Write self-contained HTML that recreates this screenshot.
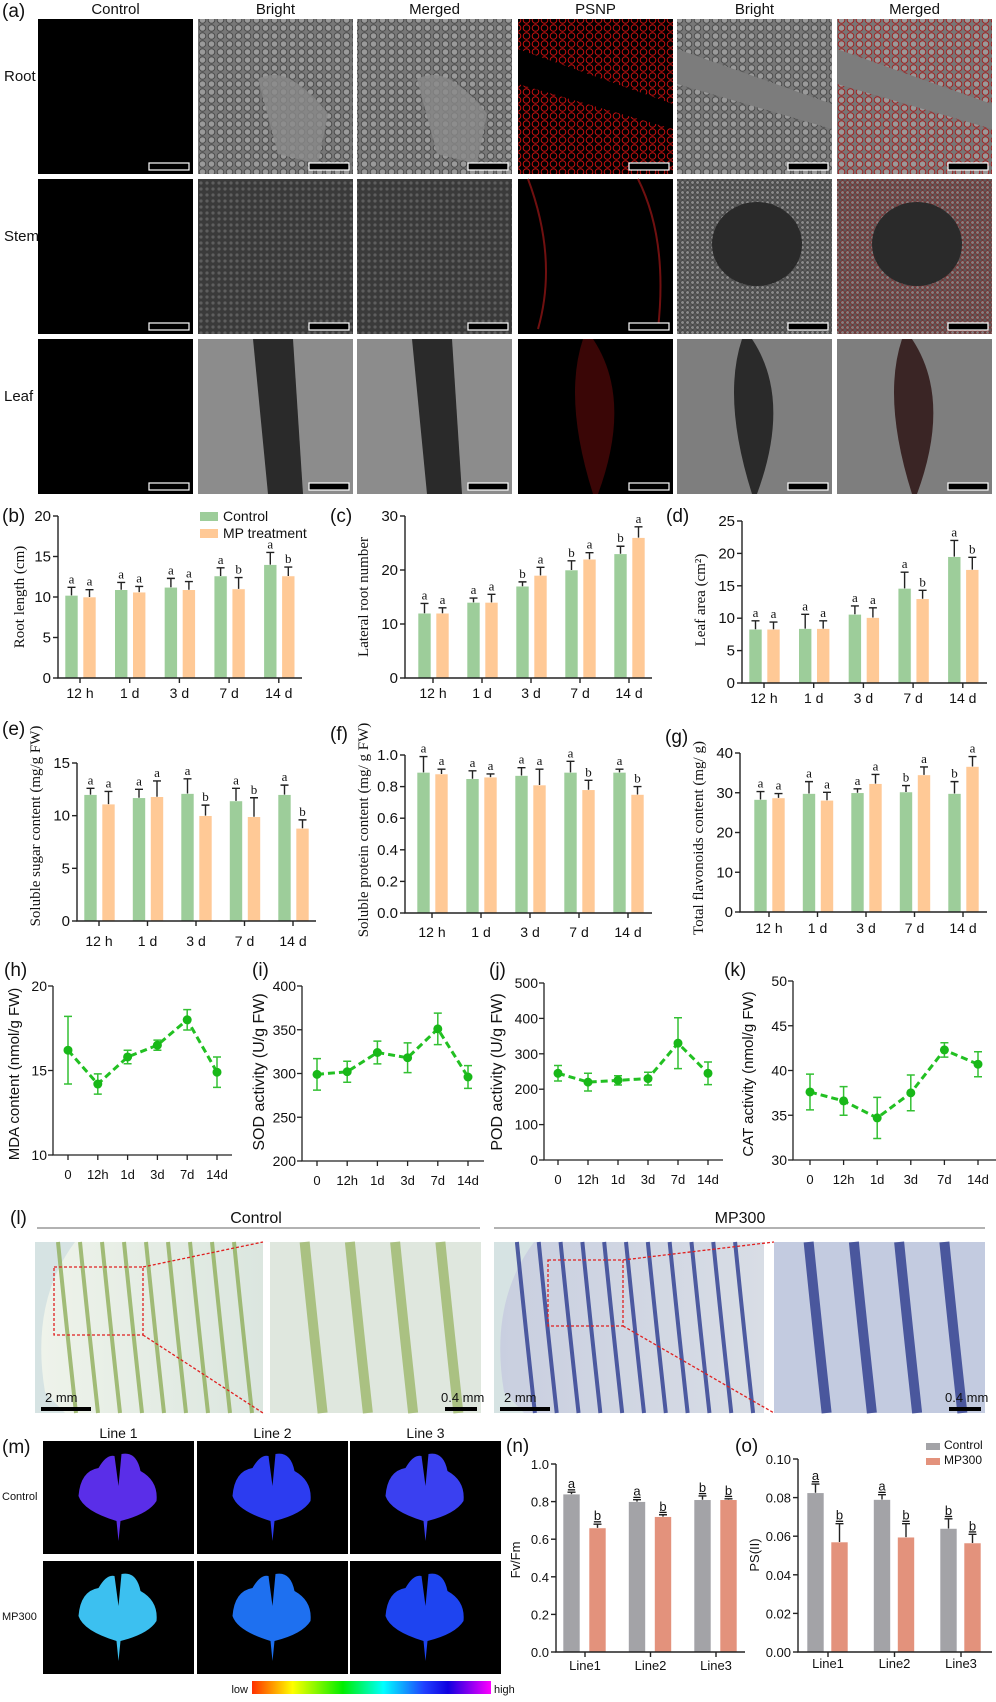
<!DOCTYPE html>
<html><head><meta charset="utf-8"><title>Figure</title>
<style>
html,body{margin:0;padding:0;background:#fff;}
svg text{font-family:"Liberation Sans",Arial,sans-serif;}
.serif{font-family:"Liberation Serif","Times New Roman",serif !important;}
</style></head>
<body>
<svg id="fig" xmlns="http://www.w3.org/2000/svg" width="996" height="1697" viewBox="0 0 996 1697">
<defs>
  <pattern id="cellsG" width="9" height="8" patternUnits="userSpaceOnUse"><rect width="9" height="8" fill="#777"/><circle cx="4.5" cy="4" r="3.3" fill="#9a9a9a" stroke="#4a4a4a" stroke-width="1"/></pattern>
  <pattern id="cellsR" width="9" height="8" patternUnits="userSpaceOnUse"><rect width="9" height="8" fill="#000"/><circle cx="4.5" cy="4" r="3.3" fill="none" stroke="#c81010" stroke-width="1"/></pattern>
  <pattern id="cellsM" width="9" height="8" patternUnits="userSpaceOnUse"><rect width="9" height="8" fill="#777"/><circle cx="4.5" cy="4" r="3.3" fill="#999" stroke="#a02020" stroke-width="1"/></pattern>
  <pattern id="stemG" width="6" height="6" patternUnits="userSpaceOnUse"><rect width="6" height="6" fill="#3a3a3a"/><circle cx="3" cy="3" r="1.6" fill="#5e5e5e"/></pattern>
  <pattern id="stemG2" width="5" height="5" patternUnits="userSpaceOnUse"><rect width="5" height="5" fill="#5a5a5a"/><circle cx="2.5" cy="2.5" r="1.8" fill="#8a8a8a" stroke="#3a3a3a" stroke-width="0.6"/></pattern>
  <pattern id="stemM" width="5" height="5" patternUnits="userSpaceOnUse"><rect width="5" height="5" fill="#5a5a5a"/><circle cx="2.5" cy="2.5" r="1.8" fill="#808080" stroke="#8a1a1a" stroke-width="0.6"/></pattern>
  <linearGradient id="cbar" x1="0" x2="1" y1="0" y2="0">
    <stop offset="0" stop-color="#ff3000"/><stop offset="0.17" stop-color="#ffff00"/><stop offset="0.38" stop-color="#00ee00"/><stop offset="0.55" stop-color="#00ffff"/><stop offset="0.72" stop-color="#2040ff"/><stop offset="0.82" stop-color="#1000e0"/><stop offset="1" stop-color="#ff00ff"/>
  </linearGradient>
  <linearGradient id="ctlLeaf" x1="0" x2="1"><stop offset="0" stop-color="#eef3ea"/><stop offset="1" stop-color="#dbe6df"/></linearGradient>
  <linearGradient id="mpLeaf" x1="0" x2="1"><stop offset="0" stop-color="#c9cfe0"/><stop offset="1" stop-color="#d8dde5"/></linearGradient>
</defs>
<g id="panelA"></g>
<g id="charts"></g>
<g id="panelL"></g>
<g id="panelM"></g>
</svg>
<script>
// ---------- DATA ----------
const timeCats = ["12 h","1 d","3 d","7 d","14 d"];
const bCtrl = [10.2,10.9,11.2,12.6,14.0];
const bCtrlErr = [1.0,0.9,1.1,1.0,1.5];
const bMP = [10.0,10.6,10.9,11.0,12.6];
const bMPErr = [0.9,0.7,1.0,1.4,1.1];
const bLetC = ["a","a","a","a","a"];
const bLetM = ["a","a","a","b","b"];
const bTicks = [0,5,10,15,20];
const cCtrl = [12,14,17,20,23];
const cCtrlErr = [1.8,0.8,0.8,1.7,1.4];
const cMP = [12,14,19,22,26];
const cMPErr = [1.0,1.5,1.5,1.2,2.0];
const cLetC = ["a","a","b","b","b"];
const cLetM = ["a","a","a","a","a"];
const cTicks = [0,10,20,30];
const dCtrl = [8.3,8.4,10.6,14.6,19.5];
const dCtrlErr = [1.3,2.2,1.3,2.5,2.5];
const dMP = [8.3,8.4,10.1,13.0,17.5];
const dMPErr = [1.1,1.2,1.5,1.3,1.9];
const dLetC = ["a","a","a","a","a"];
const dLetM = ["a","a","a","b","b"];
const dTicks = [0,5,10,15,20,25];
const eCtrl = [12.0,11.7,12.1,11.4,12.0];
const eCtrlErr = [0.6,0.8,1.4,1.2,0.9];
const eMP = [11.1,11.8,10.0,9.9,8.8];
const eMPErr = [1.2,1.5,1.0,1.8,0.8];
const eLetC = ["a","a","a","a","a"];
const eLetM = ["a","a","b","b","b"];
const eTicks = [0,5,10,15];
const fCtrl = [0.89,0.85,0.87,0.89,0.89];
const fCtrlErr = [0.10,0.05,0.05,0.07,0.02];
const fMP = [0.88,0.86,0.81,0.78,0.75];
const fMPErr = [0.03,0.02,0.10,0.06,0.05];
const fLetC = ["a","a","a","a","a"];
const fLetM = ["a","a","a","b","b"];
const fTicks = [0,0.2,0.4,0.6,0.8,1.0];
const gCtrl = [28.3,29.8,30.0,30.2,29.8];
const gCtrlErr = [2.0,3.0,1.0,1.6,3.0];
const gMP = [28.7,28.1,32.3,34.5,36.6];
const gMPErr = [1.1,2.0,2.3,2.0,2.5];
const gLetC = ["a","a","a","b","b"];
const gLetM = ["a","a","a","a","a"];
const gTicks = [0,10,20,30,40];
const lineCats = ["0","12h","1d","3d","7d","14d"];
const hVals = [16.2,14.2,15.8,16.5,18.0,14.9];
const hErr = [2.0,0.6,0.4,0.3,0.6,0.9];
const hTicks = [10,15,20];
const iVals = [299,302,324,318,351,296];
const iErr = [18,12,13,17,18,13];
const iTicks = [200,250,300,350,400];
const jVals = [245,220,225,230,330,245];
const jErr = [22,25,13,18,72,32];
const jTicks = [0,100,200,300,400,500];
const kVals = [37.6,36.6,34.7,37.5,42.3,40.7];
const kErr = [2.0,1.6,2.3,2.0,0.8,1.4];
const kTicks = [30,35,40,45,50];
const lineCatsN = ["Line1","Line2","Line3"];
const nCtrl = [0.84,0.80,0.81];
const nCtrlErr = [0.01,0.01,0.02];
const nMP = [0.66,0.72,0.81];
const nMPErr = [0.02,0.01,0.005];
const nLetC = ["a","a","b"];
const nLetM = ["b","b","b"];
const nTicks = [0,0.2,0.4,0.6,0.8,1.0];
const oCtrl = [0.0825,0.079,0.064];
const oCtrlErr = [0.0045,0.0025,0.005];
const oMP = [0.057,0.0595,0.0565];
const oMPErr = [0.0095,0.007,0.0045];
const oLetC = ["a","a","b"];
const oLetM = ["b","b","b"];
const oTicks = [0,0.02,0.04,0.06,0.08,0.10];

const NS = "http://www.w3.org/2000/svg";
function mk(parent, tag, attrs, txt){
  const e = document.createElementNS(NS, tag);
  for (const k in attrs) e.setAttribute(k, attrs[k]);
  if (txt !== undefined) e.textContent = txt;
  parent.appendChild(e);
  return e;
}
const charts = document.getElementById("charts");

function fmt(v, dec){ return dec ? v.toFixed(dec) : String(v); }

function barChart(o){
  const g = mk(charts, "g", {});
  
  
  const y = v => o.yBot - (v - o.min) / (o.max - o.min) * (o.yBot - o.yTop);
  const xc = i => o.c0 + i * o.step;
  const series = [[o.ctrl,o.ctrlErr,o.letC,o.colC,o.offC],[o.mp,o.mpErr,o.letM,o.colM,o.offM]];
  series.forEach((s, si) => {
    s[0].forEach((v, i) => {
      const x = xc(i) + s[4];
      const r = mk(g, "rect", {x:x, y:y(v), width:o.bw, height:y(o.min)-y(v), fill:s[3], stroke:"#fff", "stroke-width":0.6});
      
      
      const top = y(v + s[1][i]);
      const eb = mk(g, "path", {d:`M${x+o.bw/2},${y(v)}V${top}M${x+o.bw/2-4},${top}H${x+o.bw/2+4}`, stroke:"#222", "stroke-width":1.4, fill:"none"});
      
      
      const t = mk(g, "text", {x:x+o.bw/2, y:top-4, "text-anchor":"middle", "font-size":o.letSize||13, class:o.sansLetters?"":"serif", "text-decoration":o.sansLetters?"underline":"none", fill:"#111"}, s[2][i]);
      
      
    });
  });
  const ax = mk(g, "path", {d:`M${o.x0},${o.yTop}V${y(o.min)}H${o.x1}`, stroke:"#222", "stroke-width":1.4, fill:"none"});
  
  
  o.ticks.forEach(v => {
    const tk = mk(g, "path", {d:`M${o.x0-5},${y(v)}H${o.x0}`, stroke:"#222", "stroke-width":1.4});
    
    
    const tl = mk(g, "text", {x:o.x0-7, y:y(v)+5, "text-anchor":"end", "font-size":o.tickSize||15, fill:"#111"}, fmt(v, o.dec));
    
    
  });
  o.cats.forEach((c, i) => {
    const tk = mk(g, "path", {d:`M${xc(i)},${y(o.min)}V${y(o.min)+5}`, stroke:"#222", "stroke-width":1.4});
    
    
    const tl = mk(g, "text", {x:xc(i)+(o.lblOff||0), y:o.lblY, "text-anchor":"middle", "font-size":o.catSize||14, fill:"#111"}, c);
    
    
  });
  const yt = mk(g, "text", {x:0, y:0, transform:`translate(${o.titleX},${o.titleY}) rotate(-90)`, "text-anchor":"middle", "font-size":o.titleSize||15, class:o.sansTitle?"":"serif", fill:"#111"}, o.title);
  
  
  const pl = mk(g, "text", {x:o.lx, y:o.ly, "font-size":19, fill:"#111"}, o.label);
  
  
  return g;
}

function lineChart(o){
  const g = mk(charts, "g", {});
  
  
  const y = v => o.yBot - (v - o.min) / (o.max - o.min) * (o.yBot - o.yTop);
  const xc = i => o.c0 + i * o.step;
  const ax = mk(g, "path", {d:`M${o.x0},${o.yTop}V${o.yBot}H${o.x1}`, stroke:"#222", "stroke-width":1.3, fill:"none"});
  
  
  o.ticks.forEach(v => {
    const tk = mk(g, "path", {d:`M${o.x0-5},${y(v)}H${o.x0}`, stroke:"#222", "stroke-width":1.3});
    
    
    const tl = mk(g, "text", {x:o.x0-6, y:y(v)+5, "text-anchor":"end", "font-size":14, fill:"#111"}, String(v));
    
    
  });
  o.cats.forEach((c, i) => {
    const tk = mk(g, "path", {d:`M${xc(i)},${o.yBot}V${o.yBot+5}`, stroke:"#222", "stroke-width":1.3});
    
    
    const tl = mk(g, "text", {x:xc(i), y:o.yBot+24, "text-anchor":"middle", "font-size":13, fill:"#111"}, c);
    
    
  });
  const pts = o.vals.map((v, i) => `${xc(i)},${y(v)}`).join(" ");
  const ln = mk(g, "polyline", {points:pts, fill:"none", stroke:"#22c022", "stroke-width":3, "stroke-dasharray":"7,4"});
  
  
  o.vals.forEach((v, i) => {
    const x = xc(i), t = y(v + o.err[i]), b = y(v - o.err[i]);
    const eb = mk(g, "path", {d:`M${x},${t}V${b}M${x-4},${t}H${x+4}M${x-4},${b}H${x+4}`, stroke:"#33c033", "stroke-width":1.5, fill:"none"});
    
    
    const p = mk(g, "circle", {cx:x, cy:y(v), r:4.5, fill:"#18b818"});
    
    
  });
  const yt = mk(g, "text", {x:0, y:0, transform:`translate(${o.titleX},${o.titleY}) rotate(-90)`, "text-anchor":"middle", "font-size":o.titleSize||16, fill:"#111"}, o.title);
  
  
  const pl = mk(g, "text", {x:o.lx, y:o.ly, "font-size":19, fill:"#111"}, o.label);
  
  
}

const GC="#9dcd9a", OC="#ffc996";
const common = {cats:timeCats, colC:GC, colM:OC, offC:-15, offM:3, bw:13};
barChart(Object.assign({}, common, {name:"chart-b-root-length", x0:58,x1:302,yTop:516,yBot:678,min:0,max:20,ticks:bTicks,c0:80,step:49.7,ctrl:bCtrl,ctrlErr:bCtrlErr,mp:bMP,mpErr:bMPErr,letC:bLetC,letM:bLetM,lblY:698,title:"Root length (cm)",titleX:24,titleY:597,label:"(b)",lx:2,ly:522}));
barChart(Object.assign({}, common, {name:"chart-c-lateral-root", x0:405,x1:652,yTop:516,yBot:678,min:0,max:30,ticks:cTicks,c0:433,step:49,ctrl:cCtrl,ctrlErr:cCtrlErr,mp:cMP,mpErr:cMPErr,letC:cLetC,letM:cLetM,lblY:698,title:"Lateral root number",titleX:368,titleY:597,label:"(c)",lx:330,ly:522}));
barChart(Object.assign({}, common, {name:"chart-d-leaf-area", x0:742,x1:987,yTop:521,yBot:683,min:0,max:25,ticks:dTicks,c0:764,step:49.7,ctrl:dCtrl,ctrlErr:dCtrlErr,mp:dMP,mpErr:dMPErr,letC:dLetC,letM:dLetM,lblY:703,title:"Leaf area (cm²)",titleX:705,titleY:600,label:"(d)",lx:666,ly:522}));
barChart(Object.assign({}, common, {name:"chart-e-sugar", x0:77,x1:316,yTop:763,yBot:921,min:0,max:15,ticks:eTicks,c0:99,step:48.5,ctrl:eCtrl,ctrlErr:eCtrlErr,mp:eMP,mpErr:eMPErr,letC:eLetC,letM:eLetM,lblY:946,title:"Soluble sugar content (mg/g FW)",titleX:40,titleY:826,label:"(e)",lx:2,ly:735}));
barChart(Object.assign({}, common, {name:"chart-f-protein", x0:405,x1:652,yTop:755,yBot:913,min:0,max:1.0,dec:1,ticks:fTicks,c0:432,step:49,ctrl:fCtrl,ctrlErr:fCtrlErr,mp:fMP,mpErr:fMPErr,letC:fLetC,letM:fLetM,lblY:937,title:"Soluble protein content (mg/ g FW)",titleX:368,titleY:830,label:"(f)",lx:330,ly:740}));
barChart(Object.assign({}, common, {name:"chart-g-flavonoids", x0:740,x1:987,yTop:753,yBot:912,min:0,max:40,ticks:gTicks,c0:769,step:48.5,ctrl:gCtrl,ctrlErr:gCtrlErr,mp:gMP,mpErr:gMPErr,letC:gLetC,letM:gLetM,lblY:933,title:"Total flavonoids content (mg/ g)",titleX:703,titleY:838,label:"(g)",lx:665,ly:743}));

lineChart({name:"chart-h-mda",x0:53,x1:232,yTop:986,yBot:1155,min:10,max:20,ticks:hTicks,c0:68,step:29.8,cats:lineCats,vals:hVals,err:hErr,title:"MDA content (nmol/g FW)",titleSize:15,titleX:19,titleY:1074,label:"(h)",lx:4,ly:976});
lineChart({name:"chart-i-sod",x0:302,x1:484,yTop:986,yBot:1161,min:200,max:400,ticks:iTicks,c0:317,step:30.2,cats:lineCats,vals:iVals,err:iErr,title:"SOD activity (U/g FW)",titleX:264,titleY:1072,label:"(i)",lx:252,ly:976});
lineChart({name:"chart-j-pod",x0:544,x1:723,yTop:983,yBot:1160,min:0,max:500,ticks:jTicks,c0:558,step:30,cats:lineCats,vals:jVals,err:jErr,title:"POD activity (U/g FW)",titleX:502,titleY:1072,label:"(j)",lx:489,ly:976});
lineChart({name:"chart-k-cat",x0:793,x1:996,yTop:981,yBot:1160,min:30,max:50,ticks:kTicks,c0:810,step:33.6,cats:lineCats,vals:kVals,err:kErr,title:"CAT activity (nmol/g  FW)",titleSize:15,titleX:753,titleY:1074,label:"(k)",lx:724,ly:976});

const nc = {cats:lineCatsN, colC:"#a3a3a7", colM:"#e3927c", bw:17, tickSize:13, catSize:13, letSize:13, sansLetters:true, sansTitle:true, dec:1, titleSize:13};
barChart(Object.assign({}, nc, {name:"chart-n-fvfm",x0:556,x1:745,yTop:1464,yBot:1652,min:0,max:1.0,ticks:nTicks,c0:585,step:65.5,offC:-22,offM:4,ctrl:nCtrl,ctrlErr:nCtrlErr,mp:nMP,mpErr:nMPErr,letC:nLetC,letM:nLetM,lblY:1670,title:"Fv/Fm",titleX:520,titleY:1560,label:"(n)",lx:506,ly:1452}));
barChart(Object.assign({}, nc, {name:"chart-o-psii",x0:798,x1:992,yTop:1459,yBot:1652,min:0,max:0.10,dec:2,ticks:oTicks,c0:828,step:66.5,offC:-21,offM:3,ctrl:oCtrl,ctrlErr:oCtrlErr,mp:oMP,mpErr:oMPErr,letC:oLetC,letM:oLetM,lblY:1668,title:"PS(II)",titleX:759,titleY:1555,label:"(o)",lx:735,ly:1452}));

(function(){
  const lg = mk(charts, "g", {});
  
  
  const s1 = mk(lg, "rect", {x:200,y:512,width:18,height:9,fill:GC});
  
  
  const t1 = mk(lg, "text", {x:223,y:521,"font-size":14,fill:"#111"}, "Control");
  
  
  const s2 = mk(lg, "rect", {x:200,y:529,width:18,height:9,fill:OC});
  
  
  const t2 = mk(lg, "text", {x:223,y:538,"font-size":14,fill:"#111"}, "MP treatment");
  
  
  const lo = mk(charts, "g", {});
  
  
  const s3 = mk(lo, "rect", {x:926,y:1443,width:14,height:7,fill:"#a3a3a7"});
  
  
  const t3 = mk(lo, "text", {x:944,y:1449,"font-size":12,fill:"#111"}, "Control");
  
  
  const s4 = mk(lo, "rect", {x:926,y:1458,width:14,height:7,fill:"#e3927c"});
  
  
  const t4 = mk(lo, "text", {x:944,y:1464,"font-size":12,fill:"#111"}, "MP300");
  
  
})();

// ---------- PANEL A ----------
(function(){
  const A = document.getElementById("panelA");
  const cols = [38,198,357,518,677,837];
  const colW = 155;
  const rows = [19,179,339];
  const rowH = 155;
  const heads = ["Control","Bright","Merged","PSNP","Bright","Merged"];
  const rowNames = ["Root","Stem","Leaf"];
  const fills = [
    ["#000","url(#cellsG)","url(#cellsG)","url(#cellsR)","url(#cellsG)","url(#cellsM)"],
    ["#000","url(#stemG)","url(#stemG)","#000","url(#stemG2)","url(#stemM)"],
    ["#000","#8c8c8c","#8c8c8c","#000","#7e7e7e","#7e7e7e"]
  ];
  const pl = mk(A, "text", {x:2,y:17,"font-size":19,fill:"#111"}, "(a)");
  
  
  heads.forEach((h, c) => {
    const t = mk(A, "text", {x:cols[c]+colW/2,y:14,"text-anchor":"middle","font-size":15,fill:"#111"}, h);
    
    
  });
  rowNames.forEach((n, r) => {
    const t = mk(A, "text", {x:4,y:rows[r]+62,"font-size":15,fill:"#111"}, n);
    
    
    cols.forEach((x, c) => {
      const im = mk(A, "rect", {x:x,y:rows[r],width:colW,height:rowH,fill:fills[r][c]});
      
      
      if (r === 0 && (c === 1 || c === 2)) {
        const p = mk(A, "path", {d:`M${x+60},${rows[r]+60}q20,-10 40,5t30,30l-10,50l-40,-10z`, fill:"#8a8a8a", opacity:0.8});
        
        
      }
      if (r === 0 && c >= 3) {
        const p = mk(A, "path", {d:`M${x},${rows[r]+30}L${x+colW},${rows[r]+85}L${x+colW},${rows[r]+110}L${x},${rows[r]+65}z`, fill:c===3?"#000":"#7c7c7c"});
        
        
      }
      if (r === 1 && (c === 4 || c === 5)) {
        const p = mk(A, "ellipse", {cx:x+80,cy:rows[r]+65,rx:45,ry:42,fill:"#2a2a2a"});
        
        
      }
      if (r === 1 && c === 3) {
        const p = mk(A, "path", {d:`M${x+10},${rows[r]}Q${x+40},${rows[r]+80} ${x+20},${rows[r]+150}M${x+120},${rows[r]}Q${x+150},${rows[r]+60} ${x+140},${rows[r]+150}`, stroke:"#701010", fill:"none","stroke-width":2});
        
        
      }
      if (r === 2 && c > 0) {
        const dark = c === 1 || c === 2;
        const col = c === 3 ? "#3a0606" : (c === 5 ? "#3a2525" : "#2a2a2a");
        const p = mk(A, "path", {d: dark ? `M${x+55},${rows[r]}L${x+95},${rows[r]}L${x+105},${rows[r]+155}L${x+70},${rows[r]+155}z` : `M${x+65},${rows[r]}L${x+75},${rows[r]}Q${x+115},${rows[r]+60} ${x+80},${rows[r]+155}L${x+75},${rows[r]+155}Q${x+45},${rows[r]+60} ${x+65},${rows[r]}z`, fill: col});
        
        
      }
      const sb = mk(A, "rect", {x:x+111,y:rows[r]+144,width:40,height:7,fill:"#000",stroke:"#fff","stroke-width":1.2});
      
      
    });
  });
})();

// ---------- PANEL L ----------
(function(){
  const L = document.getElementById("panelL");
  const pl = mk(L, "text", {x:10,y:1224,"font-size":19,fill:"#111"}, "(l)");
  
  
  const h1 = mk(L, "text", {x:256,y:1223,"text-anchor":"middle","font-size":16,fill:"#111"}, "Control");
  
  
  const l1 = mk(L, "line", {x1:37,y1:1228,x2:480,y2:1228,stroke:"#999","stroke-width":1.5});
  
  
  const h2 = mk(L, "text", {x:740,y:1223,"text-anchor":"middle","font-size":16,fill:"#111"}, "MP300");
  
  
  const l2 = mk(L, "line", {x1:494,y1:1228,x2:985,y2:1228,stroke:"#999","stroke-width":1.5});
  
  
  const panels = [
    {x:35,w:228,fill:"url(#ctlLeaf)",vein:"#8fae5a",n:9,label:"2 mm",round:true},
    {x:270,w:211,fill:"#dfe7de",vein:"#9cb86a",n:4,label:"0.4 mm"},
    {x:494,w:270,fill:"url(#mpLeaf)",vein:"#2a3a8f",n:11,label:"2 mm",round:true},
    {x:774,w:211,fill:"#c3cbe0",vein:"#2c3a8c",n:4,label:"0.4 mm"}
  ];
  panels.forEach((p, k) => {
    const y0 = 1242, h = 171;
    const bg = mk(L, "rect", {x:p.x,y:y0,width:p.w,height:h,fill:p.round?"#d6e3e3":p.fill});
    
    
    if (p.round) {
      const leaf = mk(L, "path", {d:`M${p.x+p.w},${y0}L${p.x+40},${y0}Q${p.x-5},${y0+60} ${p.x+10},${y0+150}L${p.x+30},${y0+h}L${p.x+p.w},${y0+h}z`, fill:p.fill});
      
      
    }
    for (let i = 0; i < p.n; i++) {
      const vx = p.x + 20 + (i + 0.5) * (p.w - 30) / p.n;
      const v = mk(L, "path", {d:`M${vx - 8},${y0}Q${vx},${y0+80} ${vx + 10},${y0+h}`, stroke:p.vein, "stroke-width": k % 2 ? 10 : 4, fill:"none", opacity:0.8});
      
      
    }
    const sb = mk(L, "rect", {x:(k%2)? p.x+p.w-36 : p.x+6, y:1407, width:(k%2?32:50), height:4, fill:"#000"});
    
    
    const st = mk(L, "text", {x:(k%2)? p.x+p.w-40 : p.x+10, y:1402, "font-size":13, fill:"#111"}, p.label);
    
    
  });
  [[54,1267,89,68,263,1242,263,1413],[548,1260,75,66,774,1242,774,1413]].forEach(b => {
    const r = mk(L, "rect", {x:b[0],y:b[1],width:b[2],height:b[3],fill:"none",stroke:"#e02020","stroke-width":1.3,"stroke-dasharray":"3,2"});
    
    
    const ln = mk(L, "path", {d:`M${b[0]+b[2]},${b[1]}L${b[4]},${b[5]}M${b[0]+b[2]},${b[1]+b[3]}L${b[6]},${b[7]}`, stroke:"#e02020","stroke-width":1.3,"stroke-dasharray":"3,2",fill:"none"});
    
    
  });
})();

// ---------- PANEL M ----------
(function(){
  const M = document.getElementById("panelM");
  const pl = mk(M, "text", {x:2,y:1453,"font-size":19,fill:"#111"}, "(m)");
  
  
  const cols = [43,197,350];
  const w = 151;
  const rows = [1441,1561];
  const h = 113;
  ["Line 1","Line 2","Line 3"].forEach((t, i) => {
    const e = mk(M, "text", {x:cols[i]+w/2,y:1438,"text-anchor":"middle","font-size":14,fill:"#111"}, t);
    
    
  });
  ["Control","MP300"].forEach((t, i) => {
    const e = mk(M, "text", {x:2,y:rows[i]+59,"font-size":11,fill:"#111"}, t);
    
    
  });
  const leafCols = [["#5a2ee8","#2c3cf0","#3a40f0"],["#3cc0f0","#1e70f0","#1e44f0"]];
  rows.forEach((y, r) => cols.forEach((x, c) => {
    const im = mk(M, "rect", {x:x,y:y,width:w,height:h,fill:"#000"});
    
    
    const cx = x + w/2, cy = y + 55;
    const leaf = mk(M, "path", {d:`M${cx},${cy+45}L${cx-2},${cy+25}Q${cx-35},${cy+15} ${cx-40},${cy}Q${cx-38},${cy-25} ${cx-20},${cy-28}Q${cx-12},${cy-42} ${cx-4},${cy-40}L${cx},${cy-10}L${cx+3},${cy-42}Q${cx+18},${cy-45} ${cx+22},${cy-25}Q${cx+40},${cy-15} ${cx+38},${cy+5}Q${cx+30},${cy+18} ${cx+2},${cy+25}z`, fill:leafCols[r][c]});
    
    
  }));
  const cb = mk(M, "rect", {x:252,y:1681,width:239,height:13,fill:"url(#cbar)"});
  
  
  const lo = mk(M, "text", {x:248,y:1693,"text-anchor":"end","font-size":11,fill:"#111"}, "low");
  
  
  const hi = mk(M, "text", {x:494,y:1693,"font-size":11,fill:"#111"}, "high");
  
  
})();
</script>
</body></html>
